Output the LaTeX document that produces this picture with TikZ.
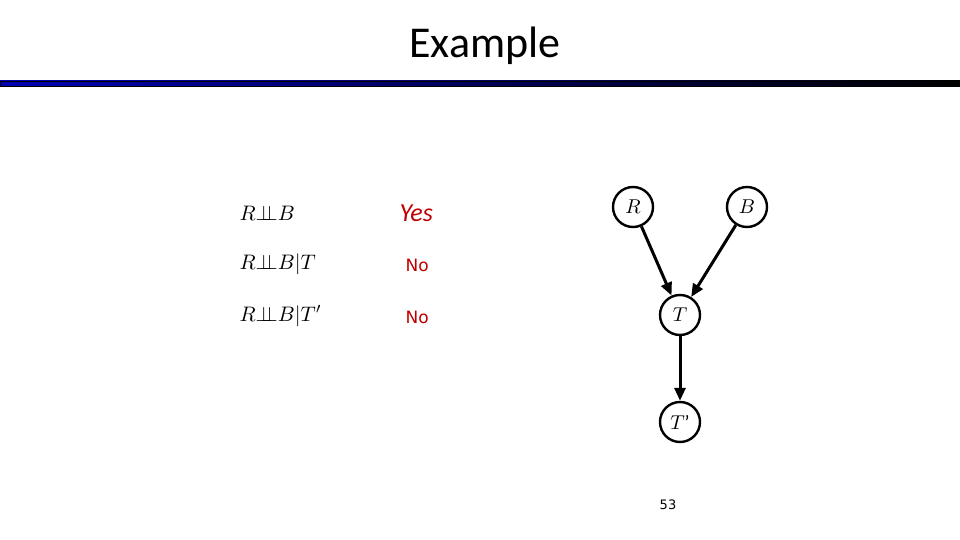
\documentclass[tikz,border=0pt]{standalone}
\usepackage{fontspec}
\usepackage{graphicx}
\setmainfont{Carlito}
\newfontfamily\dvs{DejaVu Sans}
\usetikzlibrary{arrows.meta}
\definecolor{myred}{RGB}{192,0,0}
\newcommand{\indep}{\perp\!\!\!\perp}
\begin{document}
\begin{tikzpicture}[x=1pt,y=-1pt,
  bn/.style={circle,draw,line width=2.4pt,minimum size=40pt,inner sep=0pt},
  edge/.style={line width=3pt,-{Triangle[length=13pt,width=11pt]}},
  lbl/.style={anchor=west}]
\useasboundingbox (0,0) rectangle (960,540);
\shade[left color=blue!70!black,right color=black] (0,81) rectangle (960,86);
\draw[line width=0.4pt] (0,81) rectangle (960,86);
\node (title) at (485,46) {\fontsize{44}{48}\selectfont Example};
\node[lbl] (f1) at (236,213) {\scalebox{2.1}{$R{\indep}B$}};
\node[lbl] (f2) at (236,264) {\scalebox{2.1}{$R{\indep}B|T$}};
\node[lbl] (f3) at (236,316) {\scalebox{2.1}{$R{\indep}B|T'$}};
\node[anchor=west,text=myred,font=\fontsize{26}{28}\selectfont\itshape] (y1) at (396,213) {Yes};
\node[anchor=west,text=myred,font=\dvs\fontsize{17}{20}\selectfont] (n1) at (402,265) {No};
\node[anchor=west,text=myred,font=\dvs\fontsize{17}{20}\selectfont] (n2) at (402,317) {No};
\node[bn] (R) at (633,207) {\scalebox{2}{$R$}};
\node[bn] (B) at (747,207) {\scalebox{2}{$B$}};
\node[bn] (T) at (680,315) {\scalebox{2}{$T$}};
\node[bn] (Tp) at (680,422) {\scalebox{2}{$T$'}};
\draw[edge] (R) -- (T);
\draw[edge] (B) -- (T);
\draw[edge] (T) -- (Tp);
\node (pg) at (668,505) {\dvs\fontsize{13}{16}\selectfont 53};
\end{tikzpicture}
\end{document}
